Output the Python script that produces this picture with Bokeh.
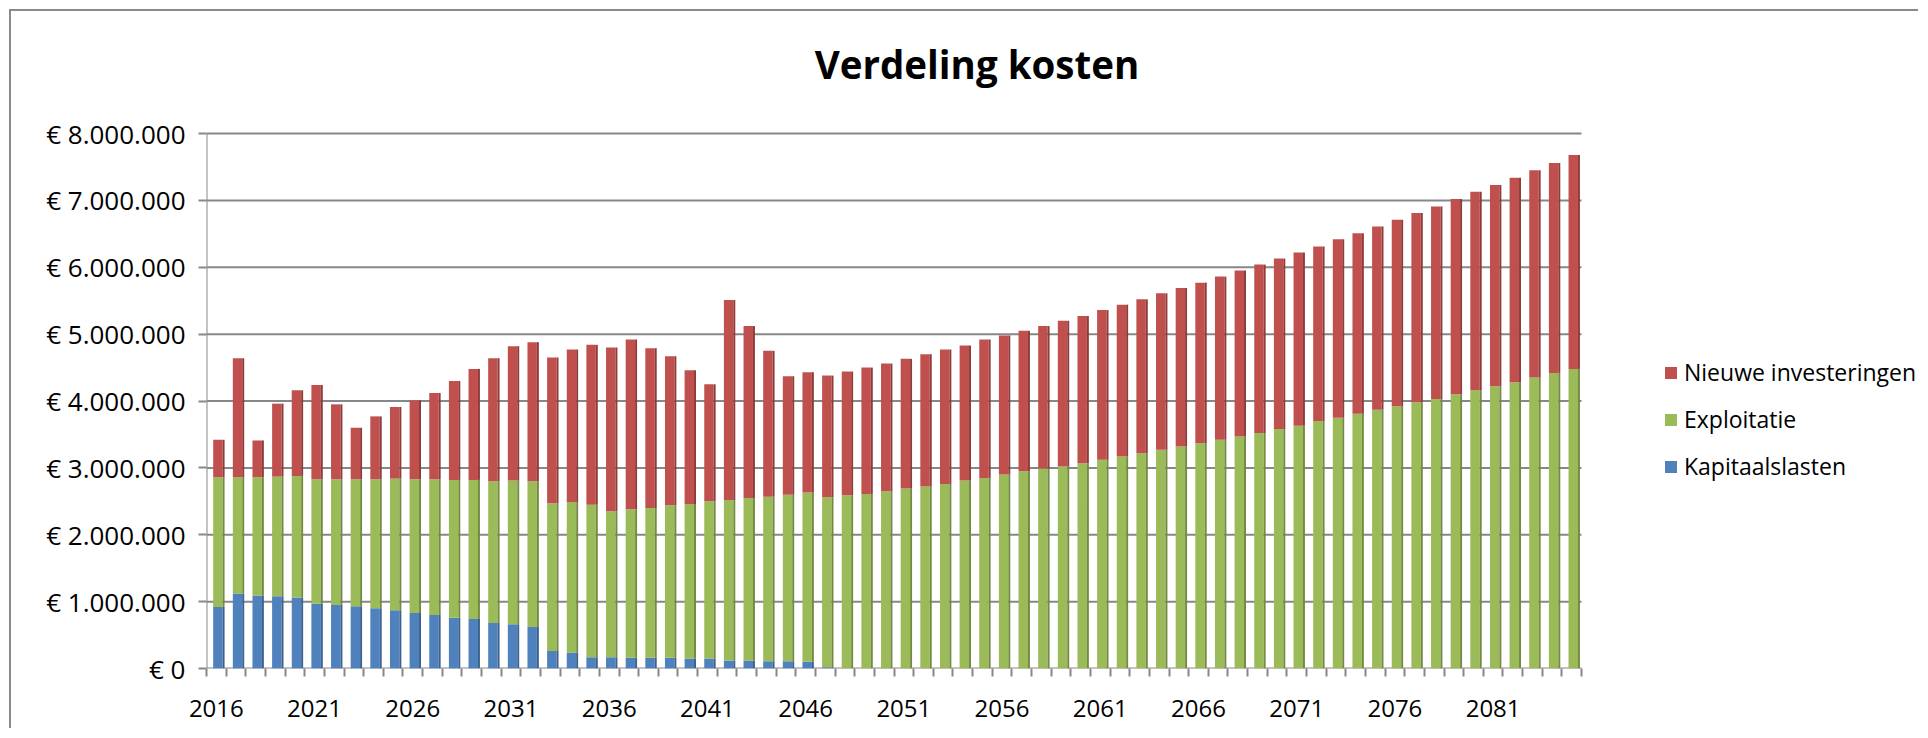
from bokeh.plotting import figure
from bokeh.models import (ColumnDataSource, FixedTicker, CustomJSTickFormatter,
                          Legend, LegendItem)
from bokeh.core.properties import value
from bokeh.transform import dodge
from bokeh.embed import file_html
from bokeh.resources import INLINE

# ---------------- data ----------------
years = list(range(2016, 2086))

kapitaalslasten = [
    920000, 1120000, 1090000, 1080000, 1060000, 970000, 950000, 930000, 900000, 870000,
    830000, 800000, 760000, 740000, 680000, 660000, 620000, 260000, 240000, 170000,
    170000, 160000, 160000, 160000, 150000, 150000, 120000, 120000, 110000, 110000,
    100000, 20000, 0, 0, 0, 0, 0, 0, 0, 0,
    0, 0, 0, 0, 0, 0, 0, 0, 0, 0,
    0, 0, 0, 0, 0, 0, 0, 0, 0, 0,
    0, 0, 0, 0, 0, 0, 0, 0, 0, 0,
]

exploitatie = [
    1940000, 1740000, 1770000, 1790000, 1820000, 1860000, 1880000, 1900000, 1930000, 1970000,
    2000000, 2030000, 2060000, 2080000, 2120000, 2150000, 2180000, 2210000, 2250000, 2280000,
    2180000, 2220000, 2240000, 2280000, 2310000, 2350000, 2400000, 2430000, 2460000, 2490000,
    2530000, 2540000, 2590000, 2610000, 2650000, 2690000, 2720000, 2760000, 2810000, 2850000,
    2900000, 2950000, 2990000, 3020000, 3070000, 3120000, 3170000, 3220000, 3270000, 3320000,
    3370000, 3420000, 3470000, 3520000, 3580000, 3630000, 3700000, 3750000, 3810000, 3870000,
    3920000, 3980000, 4030000, 4100000, 4160000, 4220000, 4280000, 4350000, 4420000, 4480000,
]

nieuwe_investeringen = [
    560000, 1780000, 550000, 1090000, 1280000, 1410000, 1120000, 770000, 940000, 1070000,
    1180000, 1290000, 1480000, 1660000, 1840000, 2010000, 2080000, 2180000, 2280000, 2390000,
    2450000, 2540000, 2390000, 2230000, 2000000, 1750000, 2990000, 2570000, 2180000, 1770000,
    1800000, 1820000, 1850000, 1890000, 1910000, 1940000, 1980000, 2010000, 2020000, 2070000,
    2080000, 2100000, 2130000, 2180000, 2200000, 2240000, 2270000, 2300000, 2340000, 2370000,
    2400000, 2440000, 2480000, 2520000, 2550000, 2590000, 2610000, 2670000, 2700000, 2740000,
    2790000, 2830000, 2880000, 2920000, 2970000, 3010000, 3060000, 3100000, 3140000, 3200000,
]

title_text = "Verdeling kosten"
series_names = ["Kapitaalslasten", "Exploitatie", "Nieuwe investeringen"]
series_cols = ["kap", "expl", "nieuw"]
front_colors = ["#4F81BD", "#9BBB59", "#C0504D"]
side_colors = ["#3A6190", "#728B40", "#8F3B39"]

x_tick_years = [2016, 2021, 2026, 2031, 2036, 2041, 2046, 2051, 2056, 2061, 2066, 2071, 2076, 2081]
y_ticks = [0, 1000000, 2000000, 3000000, 4000000, 5000000, 6000000, 7000000, 8000000]

FONT = "Open Sans"
GRID = "#878787"

# ---------------- layout (pixels) ----------------
W, H = 1909, 719
LEFT = 195            # frame left inside canvas
BOTTOM = 62           # space for x labels
PLOT_W = 1375         # width used by the 70 year slots
PLOT_TOP = 122        # canvas y of the top gridline
frame_w = W - LEFT
frame_h = H - BOTTOM
px_per_year = PLOT_W / len(years)
px_per_unit = (frame_h - PLOT_TOP) / y_ticks[-1]
x0 = years[0] - 0.5
x_end = x0 + frame_w / px_per_year
y_end = frame_h / px_per_unit
x_last = years[-1] + 0.5

source = ColumnDataSource(dict(year=years, kap=kapitaalslasten,
                               expl=exploitatie, nieuw=nieuwe_investeringen))

p = figure(width=W, height=H, x_range=(x0, x_end), y_range=(0, y_end),
           output_backend="svg", toolbar_location=None, title_location=None,
           min_border_left=LEFT, min_border_right=0,
           min_border_top=0, min_border_bottom=BOTTOM)
p.styles = {"margin-left": "9px", "margin-top": "9px",
            "border-left": "2px solid #8A8A8A", "border-top": "2px solid #8A8A8A"}
p.outline_line_color = None
p.background_fill_color = "white"
p.border_fill_color = "white"
p.xgrid.grid_line_color = None
p.ygrid.grid_line_color = None

# gridlines and the left wall, limited to the plot area
p.segment(x0=[x0] * len(y_ticks), x1=[x_last] * len(y_ticks), y0=y_ticks, y1=y_ticks,
          line_color=GRID, line_width=2)
p.segment(x0=[x0], x1=[x0], y0=[0], y1=[y_ticks[-1]], line_color=GRID, line_width=2)

# front faces
front = p.vbar_stack(series_cols, x=dodge("year", 0.08), width=0.48,
                     fill_color=front_colors, line_color=None, source=source)
# side faces (3D look)
p.vbar_stack(series_cols, x=dodge("year", 0.37), width=0.10,
             fill_color=side_colors, line_color=None, source=source)

# title, drawn as text above the plot area
title_cx = x0 + (965.5 - LEFT) / px_per_year
title_y = y_ticks[-1] + (PLOT_TOP - 52.7) / px_per_unit
p.text(x=[title_cx], y=[title_y], text=[title_text], text_font=value(FONT),
       text_font_size="38.5px", text_font_style="bold", text_color="black",
       text_align="center", text_baseline="alphabetic")

# x axis
xa = p.xaxis[0]
xa.ticker = FixedTicker(ticks=x_tick_years,
                        minor_ticks=[y - 0.5 for y in years] + [x_last])
xa.formatter = CustomJSTickFormatter(code="return tick.toFixed(0);")
xa.major_tick_line_color = None
xa.major_tick_out = 6
xa.minor_tick_out = 8
xa.minor_tick_in = 0
xa.minor_tick_line_color = GRID
xa.minor_tick_line_width = 2
xa.axis_line_color = None
xa.major_label_text_font = FONT
xa.major_label_text_font_size = "24px"
xa.major_label_text_color = "black"
xa.major_label_standoff = 23

# y axis
ya = p.yaxis[0]
ya.ticker = FixedTicker(ticks=y_ticks)
ya.formatter = CustomJSTickFormatter(code="""
if (tick == 0) { return "\u20ac 0"; }
return "\u20ac " + Math.round(tick).toString().replace(/\\B(?=(\\d{3})+(?!\\d))/g, ".");
""")
ya.major_tick_out = 8
ya.major_tick_in = 0
ya.major_tick_line_color = GRID
ya.major_tick_line_width = 2
ya.minor_tick_line_color = None
ya.axis_line_color = None
ya.major_label_text_font = FONT
ya.major_label_text_font_size = "26px"
ya.major_label_text_color = "black"
ya.major_label_standoff = 13

legend = Legend(items=[LegendItem(label=series_names[i], renderers=[front[i]]) for i in (2, 1, 0)],
                location=(1457, 186))
legend.glyph_width = 15
legend.glyph_height = 15
legend.label_text_font = FONT
legend.label_text_font_size = "23px"
legend.label_text_color = "black"
legend.label_standoff = 6
legend.label_height = 32
legend.spacing = 15
legend.padding = 0
legend.margin = 0
legend.border_line_color = None
legend.background_fill_alpha = 0
p.add_layout(legend, "center")

open("out.html", "w").write(file_html(p, INLINE))
